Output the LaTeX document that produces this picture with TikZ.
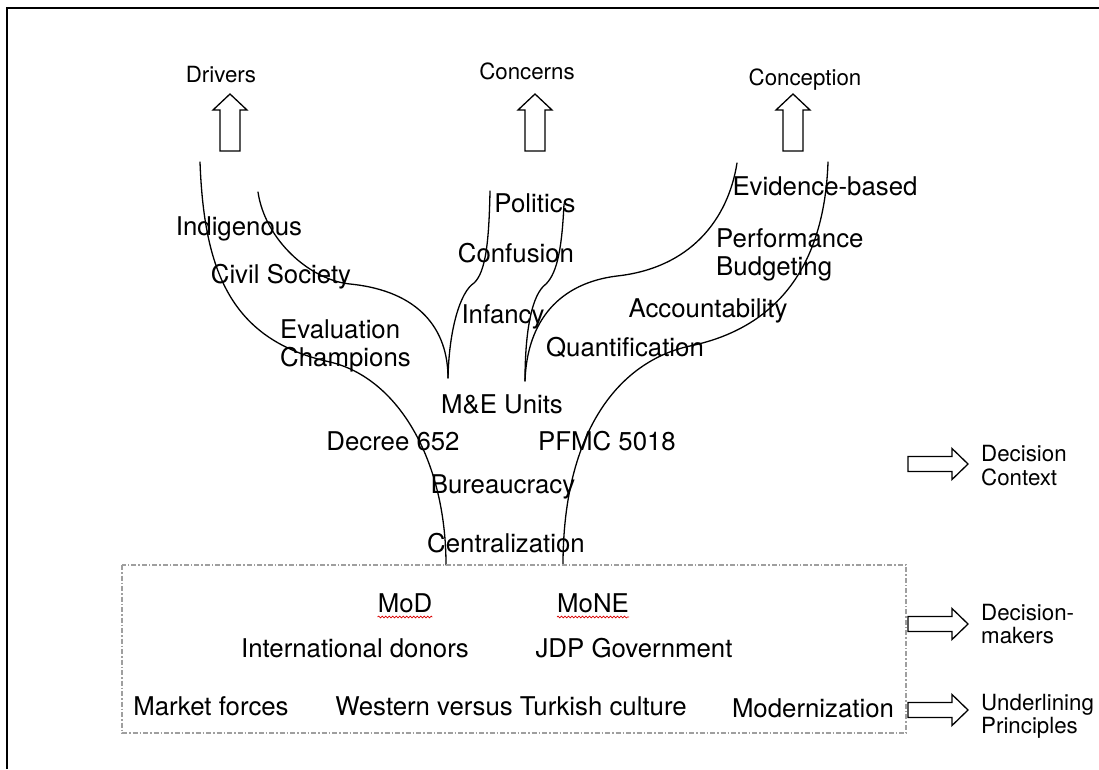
\documentclass[tikz,border=0pt]{standalone}
\usepackage{fontspec}
\setmainfont{TeX Gyre Heros}
\usetikzlibrary{decorations.pathmorphing}
\begin{document}
\begin{tikzpicture}[x=1pt,y=-1pt,
  lbl/.style={inner sep=0pt, anchor=base, font=\fontsize{25.8}{29}\selectfont},
  lblw/.style={inner sep=0pt, anchor=base west, font=\fontsize{25.8}{29}\selectfont},
  side/.style={inner sep=0pt, anchor=base west, font=\fontsize{22.3}{24}\selectfont},
  head/.style={inner sep=0pt, anchor=base, font=\fontsize{22.3}{24}\selectfont},
  branch/.style={line width=1.3pt, line cap=round},
  hollow/.style={draw, line width=1.3pt, fill=white, line join=miter},
  boxline/.style={draw=gray!75, line width=1.3pt, dash pattern=on 5pt off 2pt on 1.5pt off 2pt},
  wavy/.style={draw=red!85!black, line width=0.7pt, decorate,
    decoration={snake, amplitude=0.9pt, segment length=3.5pt}},
  uparr/.pic={\draw[hollow] (0,0) -- (17,16) -- (10,16) -- (10,57) -- (-10,57)
    -- (-10,16) -- (-17,16) -- cycle;},
  rightarr/.pic={\draw[hollow] (0,0) -- (-16,-15.5) -- (-16,-7.5) -- (-60,-7.5)
    -- (-60,7.5) -- (-16,7.5) -- (-16,15.5) -- cycle;}
]
\useasboundingbox (0,0) rectangle (1099,769);
\fill[white] (0,0) rectangle (1099,769);

% outer frame
\draw[line width=2pt] (7,769) -- (7,8) -- (1099,8);

% category headings and their arrows
\node[head] (drivers) at (221,82) {Drivers};
\node[head] (concerns) at (527,79) {Concerns};
\node[head] (conception) at (805,85) {Conception};
\pic at (230,94) {uparr};
\pic at (535,94) {uparr};
\pic at (793,94) {uparr};

% branch end points
\coordinate (a1) at (200,162);
\coordinate (a2) at (446,565);
\coordinate (b1) at (258,192);
\coordinate (me1) at (448,378);
\coordinate (c1) at (490,191);
\coordinate (d1) at (564,204);
\coordinate (me2) at (525,381);
\coordinate (e1) at (737,163);
\coordinate (f1) at (828,162);
\coordinate (f2) at (563,565);

% branches
\draw[branch] (a1) .. controls (204,270) and (230,340) .. (330,362)
  .. controls (398,378) and (446,460) .. (a2);
\draw[branch] (b1) .. controls (265,240) and (310,280) .. (350,284)
  .. controls (420,291) and (448,330) .. (me1);
\draw[branch] (c1) .. controls (489,240) and (486,272) .. (474,283)
  .. controls (460,292) and (449,330) .. (me1);
\draw[branch] (d1) .. controls (562,245) and (558,272) .. (546,284)
  .. controls (532,294) and (525,330) .. (me2);
\draw[branch] (e1) .. controls (728,220) and (690,268) .. (617,276)
  .. controls (560,283) and (527,320) .. (me2);
\draw[branch] (f1) .. controls (825,250) and (790,325) .. (690,346)
  .. controls (620,361) and (563,430) .. (f2);

% drivers
\node[lbl] (indig) at (239,235) {Indigenous};
\node[lbl] (civil) at (281,283) {Civil Society};
\node[lblw] (eval1) at (280,338) {Evaluation};
\node[lblw] (eval2) at (280,366) {Champions};

% concerns
\node[lbl] (politics) at (535,212) {Politics};
\node[lbl] (confusion) at (516,262) {Confusion};
\node[lbl] (infancy) at (503,323) {Infancy};

% conception
\node[lbl] (evid) at (825,195) {Evidence-based};
\node[lblw] (perf1) at (716,247) {Performance};
\node[lblw] (perf2) at (716,275) {Budgeting};
\node[lbl] (account) at (708,317) {Accountability};
\node[lbl] (quant) at (625,356) {Quantification};

% decision context
\node[lbl] (meu) at (502,413) {M\&E Units};
\node[lbl] (decree) at (393,450) {Decree 652};
\node[lbl] (pfmc) at (607,450) {PFMC 5018};
\node[lbl] (bureau) at (503,493) {Bureaucracy};
\node[lbl] (central) at (506,552) {Centralization};

% decision-makers and principles
\draw[boxline] (122,565) rectangle (906,733);
\node[lbl] (mod) at (405,612) {MoD};
\node[lbl] (mone) at (593,612) {MoNE};
\draw[wavy] ([yshift=-5pt]mod.base west) -- ([yshift=-5pt]mod.base east);
\draw[wavy] ([yshift=-5pt]mone.base west) -- ([yshift=-5pt]mone.base east);
\node[lbl] (donors) at (355,657) {International donors};
\node[lbl] (jdp) at (634,657) {JDP Government};
\node[lbl] (market) at (211,715) {Market forces};
\node[lbl] (western) at (511,715) {Western versus Turkish culture};
\node[lbl] (modern) at (813,717) {Modernization};

% level arrows and labels
\pic at (968,464) {rightarr};
\pic at (968,624) {rightarr};
\pic at (968,710) {rightarr};
\node[side] (ctx1) at (981,461) {Decision};
\node[side] (ctx2) at (981,485) {Context};
\node[side] (dm1) at (981,620) {Decision-};
\node[side] (dm2) at (981,643) {makers};
\node[side] (up1) at (981,710) {Underlining};
\node[side] (up2) at (981,733) {Principles};
\end{tikzpicture}
\end{document}
